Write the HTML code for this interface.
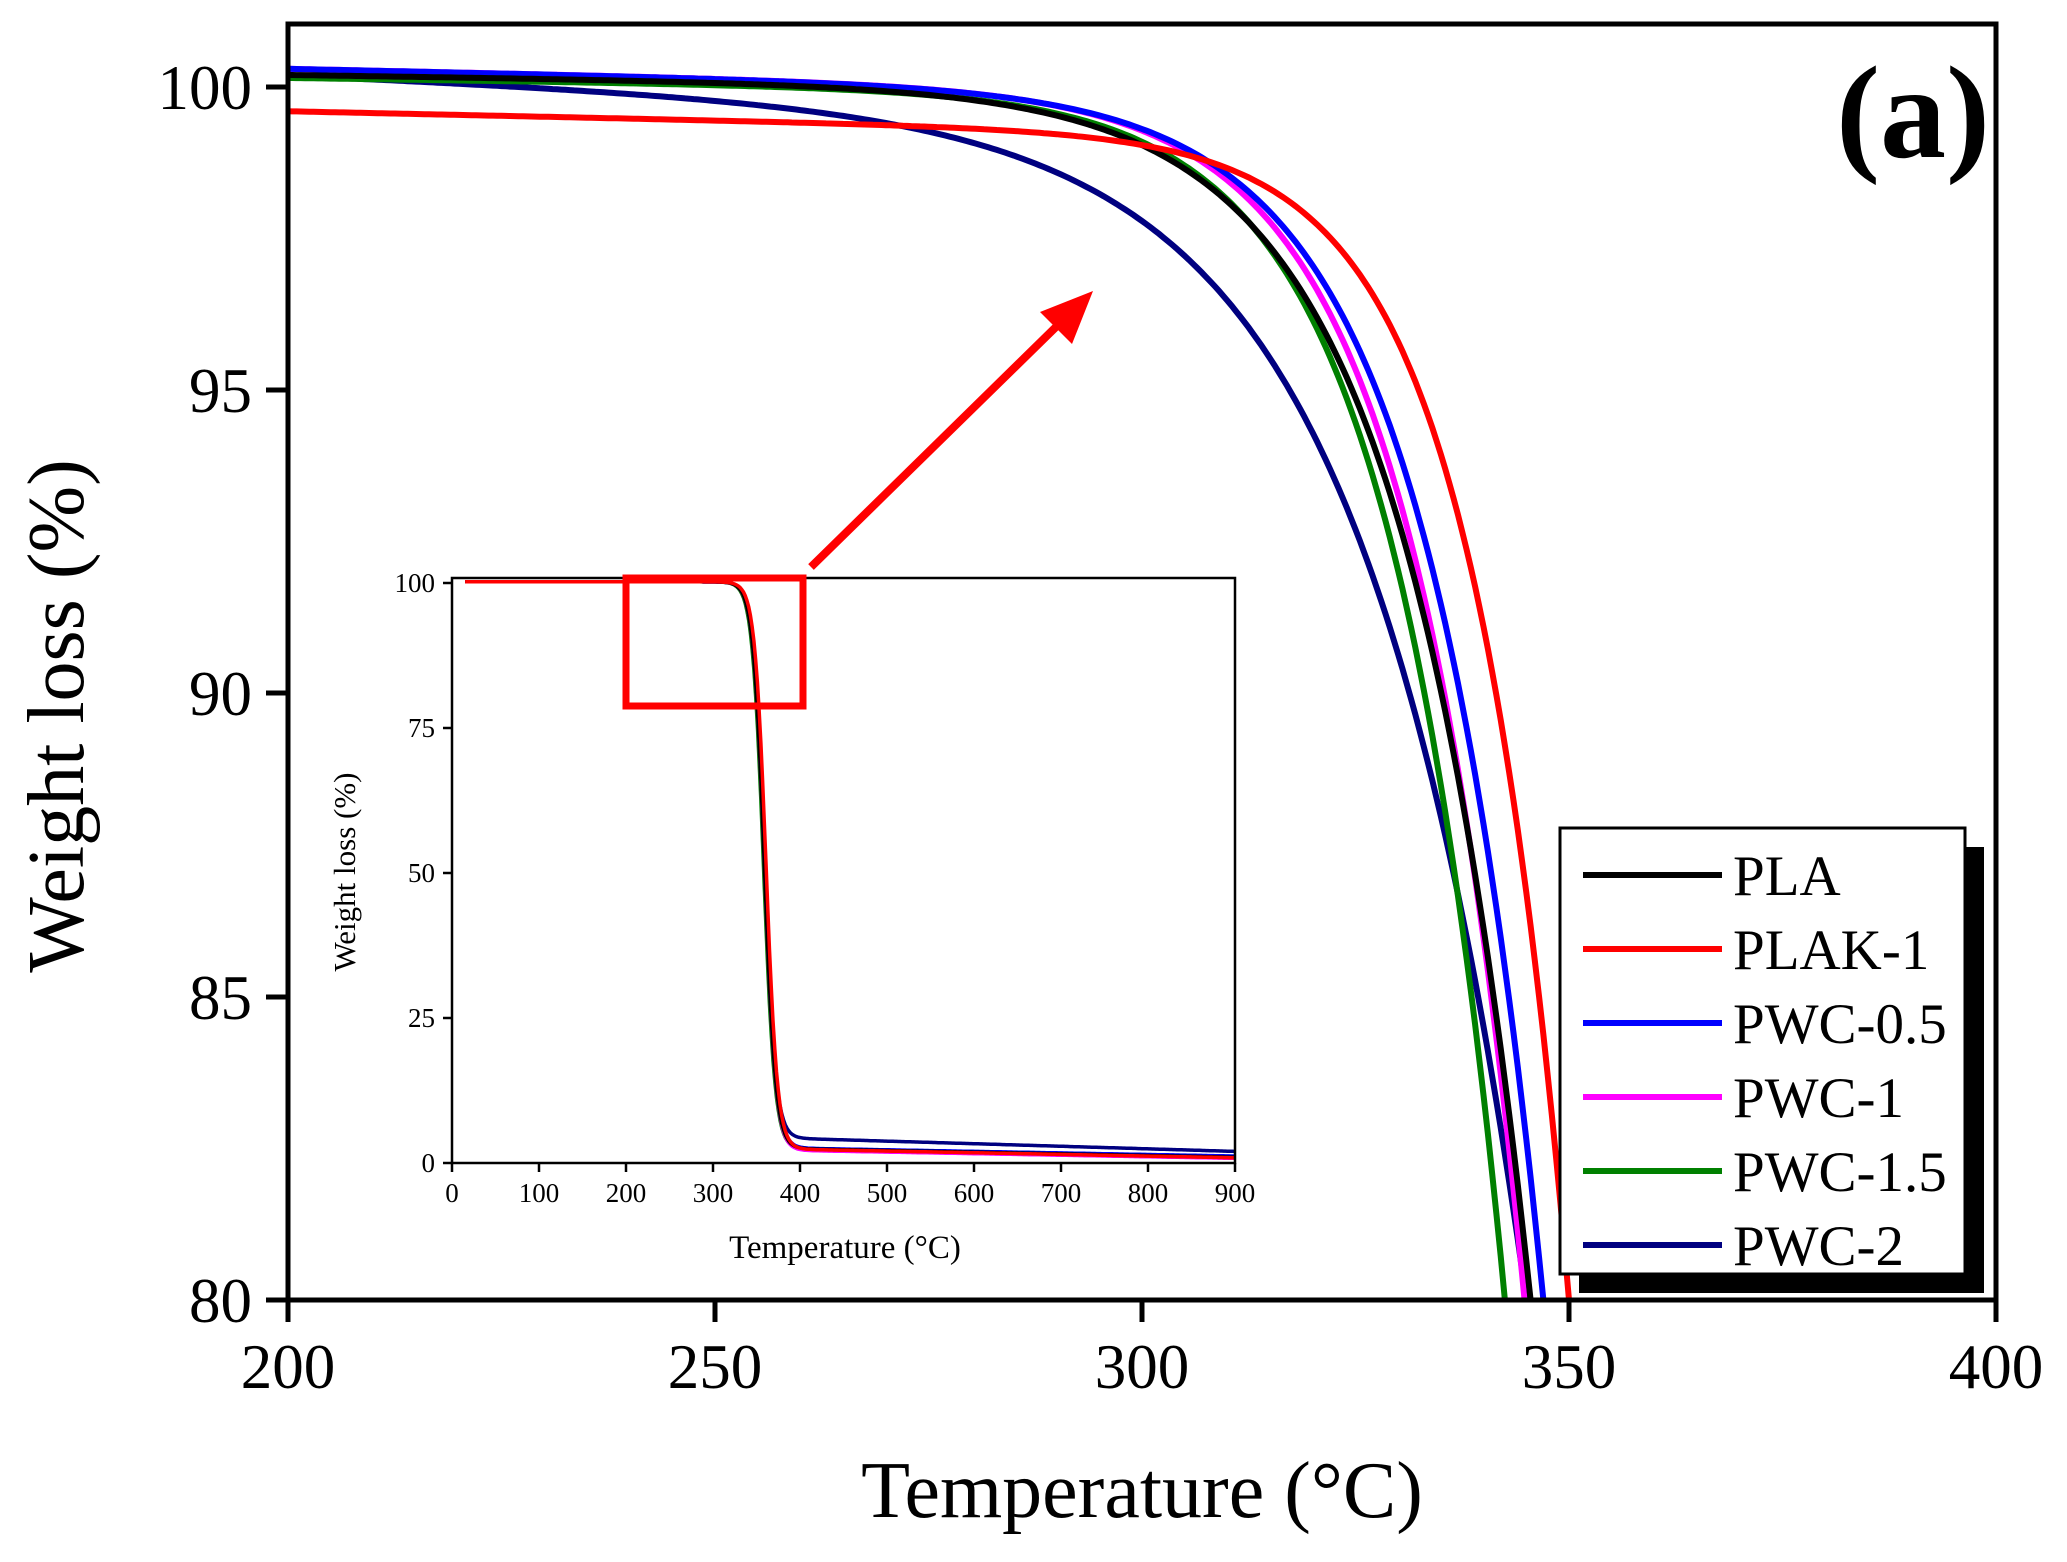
<!DOCTYPE html>
<html><head><meta charset="utf-8"><style>html,body{margin:0;padding:0;background:#fff;overflow:hidden;width:2067px;height:1562px}svg{display:block}text{font-family:"Liberation Serif",serif;fill:#000}</style></head>
<body>
<svg id="s" width="2067" height="1562" viewBox="0 0 2067 1562" xmlns="http://www.w3.org/2000/svg">
<defs>
<clipPath id="cm"><rect x="288" y="24" width="1708" height="1276"/></clipPath>
<clipPath id="ci"><rect x="452" y="578" width="783" height="585"/></clipPath>
</defs>
<rect width="2067" height="1562" fill="#fff"/>
<g id="main" clip-path="url(#cm)" fill="none" stroke-width="6"></g>
<rect x="288" y="24" width="1708" height="1276" fill="none" stroke="#000" stroke-width="5"/>
<g stroke="#000" stroke-width="5">
<line x1="288" y1="1300" x2="288" y2="1322"/><line x1="715" y1="1300" x2="715" y2="1322"/><line x1="1142" y1="1300" x2="1142" y2="1322"/><line x1="1569" y1="1300" x2="1569" y2="1322"/><line x1="1996" y1="1300" x2="1996" y2="1322"/>
<line x1="266" y1="87" x2="288" y2="87"/><line x1="266" y1="390" x2="288" y2="390"/><line x1="266" y1="693" x2="288" y2="693"/><line x1="266" y1="997" x2="288" y2="997"/><line x1="266" y1="1300" x2="288" y2="1300"/>
</g>
<g font-size="63" text-anchor="middle">
<text x="288" y="1388">200</text><text x="715" y="1388">250</text><text x="1142" y="1388">300</text><text x="1569" y="1388">350</text><text x="1996" y="1388">400</text>
</g>
<g font-size="63" text-anchor="end">
<text x="252" y="109">100</text><text x="252" y="412">95</text><text x="252" y="715">90</text><text x="252" y="1019">85</text><text x="252" y="1322">80</text>
</g>
<text x="1142" y="1517" font-size="80" text-anchor="middle">Temperature (°C)</text>
<text transform="translate(83,716) rotate(-90)" font-size="80" text-anchor="middle">Weight loss (%)</text>
<text x="1990" y="157" font-size="132" font-weight="bold" text-anchor="end">(a)</text>

<rect x="452" y="578" width="783" height="585" fill="#fff"/>
<g id="inset" clip-path="url(#ci)" fill="none" stroke-width="3.5"></g>
<rect x="452" y="578" width="783" height="585" fill="none" stroke="#000" stroke-width="2.5"/>
<g id="iticks" stroke="#000" stroke-width="2.5"></g>
<g id="ilabels" font-size="27"></g>
<text x="845" y="1258" font-size="33" text-anchor="middle">Temperature (°C)</text>
<text transform="translate(355,872) rotate(-90)" font-size="31" text-anchor="middle">Weight loss (%)</text>

<rect x="626" y="578" width="177" height="128" fill="none" stroke="#ff0000" stroke-width="7"/>
<line x1="811" y1="567" x2="1060" y2="323" stroke="#ff0000" stroke-width="8"/>
<polygon points="1093,291 1040,312 1072,344" fill="#ff0000"/>

<rect x="1579" y="847" width="405" height="446" fill="#000"/>
<rect x="1560" y="828" width="405" height="446" fill="#fff" stroke="#000" stroke-width="3"/>
<g id="leg" font-size="57"></g>
</svg>
<script>
var NS="http://www.w3.org/2000/svg";
function el(p,t,a,txt){var e=document.createElementNS(NS,t);for(var k in a)e.setAttribute(k,a[k]);if(txt!==undefined)e.textContent=txt;p.appendChild(e);return e;}
var S=[
 ["PLA","#000000",100.2,-0.002,345.5,15],
 ["PLAK-1","#ff0000",99.6,-0.003,350,11.6],
 ["PWC-0.5","#0000ff",100.3,-0.003,347,14],
 ["PWC-1","#ff00ff",100.3,-0.003,344.8,13.5],
 ["PWC-1.5","#008000",100.15,-0.002,342.5,13.5],
 ["PWC-2","#000080",100.2,-0.006,345,19]
];
var gm=document.getElementById("main");
var order=[5,4,3,2,0,1];
order.forEach(function(i){var s=S[i];var D=s[2]+s[3]*(s[4]-200)-80;var d="";
 for(var T=200;T<=356;T+=0.5){var W=s[2]+s[3]*(T-200)-D*Math.exp((T-s[4])/s[5]);
  var x=288+(T-200)*8.54,y=87+(100-W)*60.65;d+=(d?"L":"M")+x.toFixed(1)+","+y.toFixed(1);}
 el(gm,"path",{d:d,stroke:s[1]});});
var gi=document.getElementById("inset");
var IB=[[2.5,1.0,359],[2.4,0.9,361],[2.6,1.2,360],[2.2,0.8,359],[2.4,1.0,358],[4.3,2.0,359]];
var XS=783/900, Y0=1163, YS=5.8;
order.forEach(function(i){var b=IB[i];var d="";
 for(var T=15;T<=900;T+=2){var base=b[0]-(b[0]-b[1])*Math.max(0,T-380)/520;
  var W=base+(100.2-base)/(1+Math.exp((T-b[2])/6.5));
  var x=452+T*XS,y=Y0-W*YS;d+=(d?"L":"M")+x.toFixed(1)+","+y.toFixed(1);}
 el(gi,"path",{d:d,stroke:S[i][1]});});
var it=document.getElementById("iticks"),il=document.getElementById("ilabels");
for(var t=0;t<=900;t+=100){var x=452+t*XS;el(it,"line",{x1:x,y1:Y0,x2:x,y2:Y0+9});
 el(il,"text",{x:x,y:Y0+39,"text-anchor":"middle"},String(t));}
for(var w=0;w<=100;w+=25){var y=Y0-w*YS;el(it,"line",{x1:443,y1:y,x2:452,y2:y});
 el(il,"text",{x:435,y:y+9,"text-anchor":"end"},String(w));}
var gl=document.getElementById("leg");
S.forEach(function(s,i){var y=875+i*74;
 el(gl,"line",{x1:1583,y1:y,x2:1722,y2:y,stroke:s[1],"stroke-width":6});
 el(gl,"text",{x:1733,y:y+20},s[0]);});
</script>
</body></html>
